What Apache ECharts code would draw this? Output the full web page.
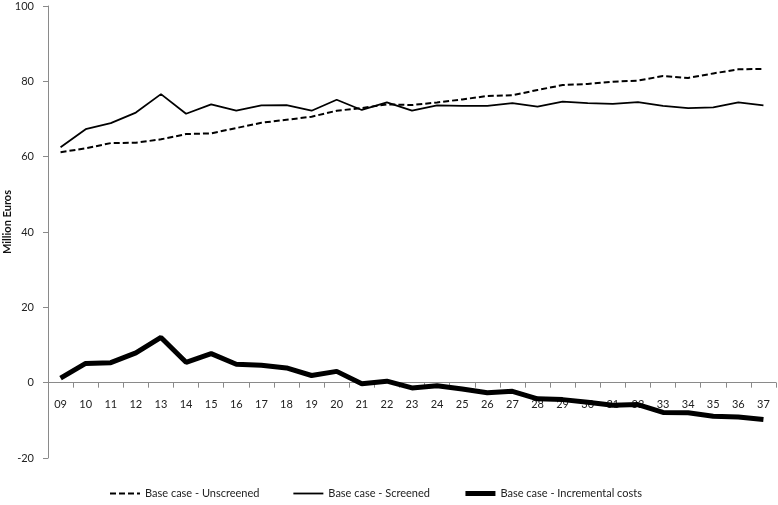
<!DOCTYPE html>
<html>
<head>
<meta charset="utf-8">
<script src="https://cdn.jsdelivr.net/npm/echarts@6/dist/echarts.min.js"></script>
<style>
html,body{margin:0;padding:0;background:#fff;}
#chart{width:778px;height:505px;}
</style>
</head>
<body>
<div id="chart"></div>
<script>
const categories = ['09','10','11','12','13','14','15','16','17','18','19','20','21','22','23','24','25','26','27','28','29','30','31','32','33','34','35','36','37'];
const unscreened = [61.2,62.2,63.6,63.7,64.6,66.0,66.2,67.6,69.0,69.8,70.6,72.2,72.9,73.9,73.7,74.4,75.2,76.1,76.3,77.7,79.0,79.3,79.9,80.2,81.4,80.9,82.1,83.2,83.3];
const screened = [62.5,67.3,68.9,71.7,76.6,71.4,73.9,72.2,73.6,73.7,72.2,75.1,72.4,74.4,72.2,73.6,73.5,73.5,74.2,73.3,74.6,74.2,74.0,74.5,73.5,72.9,73.1,74.4,73.6];
const incremental = [1.2,5.1,5.3,7.9,12.0,5.4,7.7,4.9,4.6,3.9,1.9,3.0,-0.3,0.4,-1.4,-0.8,-1.7,-2.7,-2.3,-4.3,-4.5,-5.2,-6.0,-5.8,-7.9,-8.0,-8.9,-9.1,-9.8];
const yTicks = [-20,0,20,40,60,80,100];
const seriesNames = ['Base case - Unscreened','Base case - Screened','Base case - Incremental costs'];

const font = 'Lato, "Open Sans", sans-serif';
const chart = echarts.init(document.getElementById('chart'), null, {renderer:'canvas'});
const gridTop = 6, gridBottom = 47, H = 505;
const plotH = H - gridTop - gridBottom;
const yMin = yTicks[0], yMax = yTicks[yTicks.length-1];
const zeroOffset = -plotH * (0 - yMin) / (yMax - yMin);
const styles = [
  {color:'#000',width:2,type:[6,3]},
  {color:'#000',width:1.8,type:'solid'},
  {color:'#000',width:5,type:'solid'}
];
chart.setOption({
  animation:false,
  backgroundColor:'#ffffff',
  textStyle:{fontFamily:font},
  grid:{left:48,right:2,top:gridTop,bottom:gridBottom,containLabel:false,outerBoundsMode:'none'},
  legend:{
    left:104, bottom:1, itemGap:33, itemWidth:30, itemHeight:8,
    itemStyle:{opacity:0},
    textStyle:{fontFamily:font,fontSize:11,color:'#222'},
    data:seriesNames.map((n,i)=>({name:n,lineStyle:{width:styles[i].width,type:styles[i].type,color:'#000'}}))
  },
  xAxis:{
    type:'category', data:categories, boundaryGap:true, position:'bottom', offset:zeroOffset,
    axisLine:{onZero:false,lineStyle:{color:'#8a8a8a',width:1}},
    axisTick:{show:true,alignWithLabel:false,length:5,lineStyle:{color:'#8a8a8a'}},
    axisLabel:{color:'#222',fontSize:11,margin:16,fontFamily:font,interval:0},
    splitLine:{show:false}
  },
  yAxis:{
    type:'value', min:yMin, max:yMax, interval:20,
    name:'Million Euros', nameLocation:'middle', nameGap:35, nameMoveOverlap:false,
    nameTextStyle:{fontWeight:'bold',fontSize:11,color:'#111',fontFamily:font,padding:[0,0,0,20]},
    axisLine:{show:true,lineStyle:{color:'#8a8a8a',width:1}},
    axisTick:{show:true,length:5,lineStyle:{color:'#8a8a8a'}},
    axisLabel:{color:'#222',fontSize:11,margin:14,fontFamily:font},
    splitLine:{show:false}
  },
  series:seriesNames.map((n,i)=>({
    name:n,type:'line',data:[unscreened,screened,incremental][i],symbol:'none',
    lineStyle:styles[i],itemStyle:{color:'#000'}
  }))
});
</script>
</body>
</html>
